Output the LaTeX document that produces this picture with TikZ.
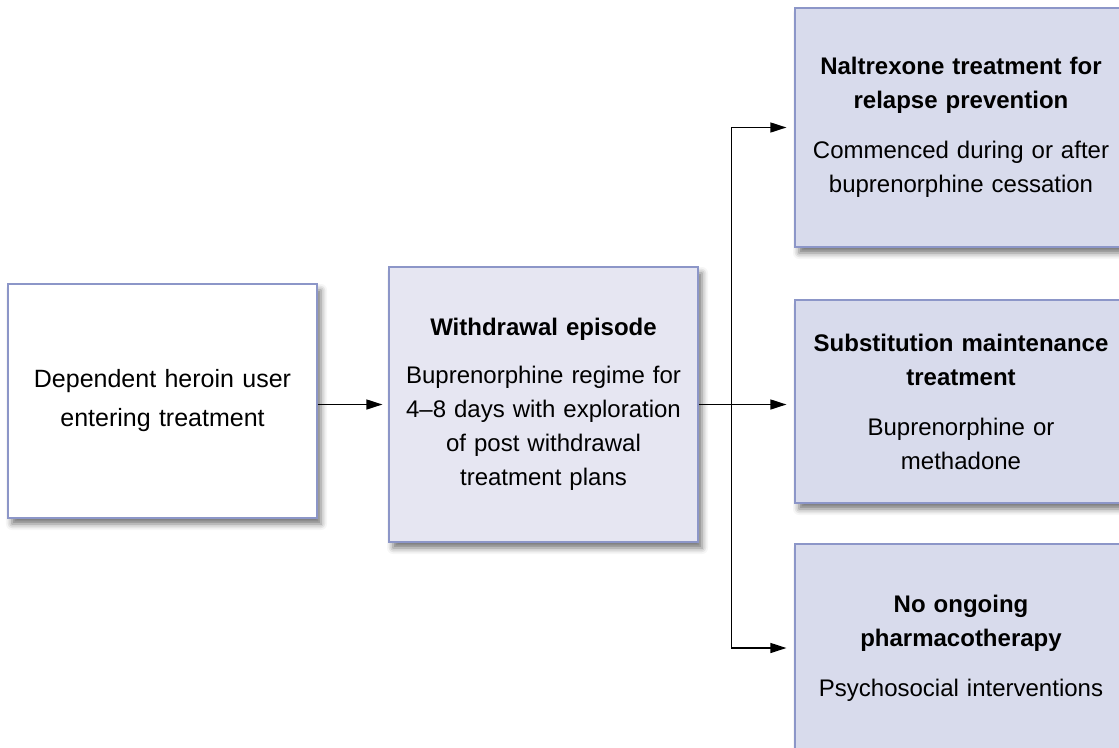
\documentclass[tikz,border=0pt]{standalone}
\usepackage{fontspec}
\setmainfont{Liberation Sans}
\usepackage{tikz}
\usetikzlibrary{arrows.meta, shadows.blur}
\usetikzlibrary{positioning}
\definecolor{boxline}{RGB}{140,150,200}
\definecolor{boxfillB}{RGB}{230,230,242}
\definecolor{boxfillC}{RGB}{216,219,236}

\begin{document}
\begin{tikzpicture}[x=1pt, y=-1pt,
		every node/.style={font=\fontsize{24}{34}\selectfont},
		stepbox/.style={draw=boxline, line width=1.2pt, inner sep=0pt, align=center,
			blur shadow={shadow xshift=4pt, shadow yshift=-6pt, shadow blur radius=6pt, shadow opacity=55}},
		link/.style={line width=1.3pt},
		arrow/.style={link, -{Triangle[length=16pt, width=10pt]}}]
		\useasboundingbox (0,0) rectangle (1119,747);
		\clip (0,0) rectangle (1119,747);

		% entry and withdrawal
		\node[stepbox, fill=white, text width=309pt, minimum height=234pt,
			font=\fontsize{25}{39}\selectfont] (user) at (162.5,401)
			{Dependent heroin user\\ entering treatment};
		\node[stepbox, fill=boxfillB, text width=309pt, minimum height=275pt] (withdrawal) at (543.5,404.5)
			{\textbf{Withdrawal episode}\\[14pt] Buprenorphine regime for\\ 4--8 days with exploration\\ of post withdrawal\\ treatment plans};

		% outcomes
		\node[stepbox, fill=boxfillC, text width=332pt, minimum height=239pt] (naltrexone) at (961,127.5)
			{\textbf{Naltrexone treatment for}\\ \textbf{relapse prevention}\\[16pt] Commenced during or after\\ buprenorphine cessation};
		\node[stepbox, fill=boxfillC, text width=332pt, minimum height=203pt] (substitution) at (961,401.5)
			{\textbf{Substitution maintenance}\\ \textbf{treatment}\\[16pt] Buprenorphine or\\ methadone};
		\node[stepbox, fill=boxfillC, text width=332pt, minimum height=208pt] (none) at (961,648)
			{\textbf{No ongoing}\\ \textbf{pharmacotherapy}\\[16pt] Psychosocial interventions};

		% connectors
		\draw[arrow, shorten >=6pt] (user.east |- withdrawal.west) -- (withdrawal.west);
		\coordinate[right=33pt of withdrawal.east] (fork);
		\draw[link] (withdrawal.east) -- (fork);
		\draw[arrow, shorten >=8pt] (fork) |- (naltrexone.west);
		\draw[arrow, shorten >=8pt] (fork) -- (substitution.west |- fork);
		\draw[arrow, shorten >=8pt] (fork) |- (none.west);
	\end{tikzpicture}
\end{document}
